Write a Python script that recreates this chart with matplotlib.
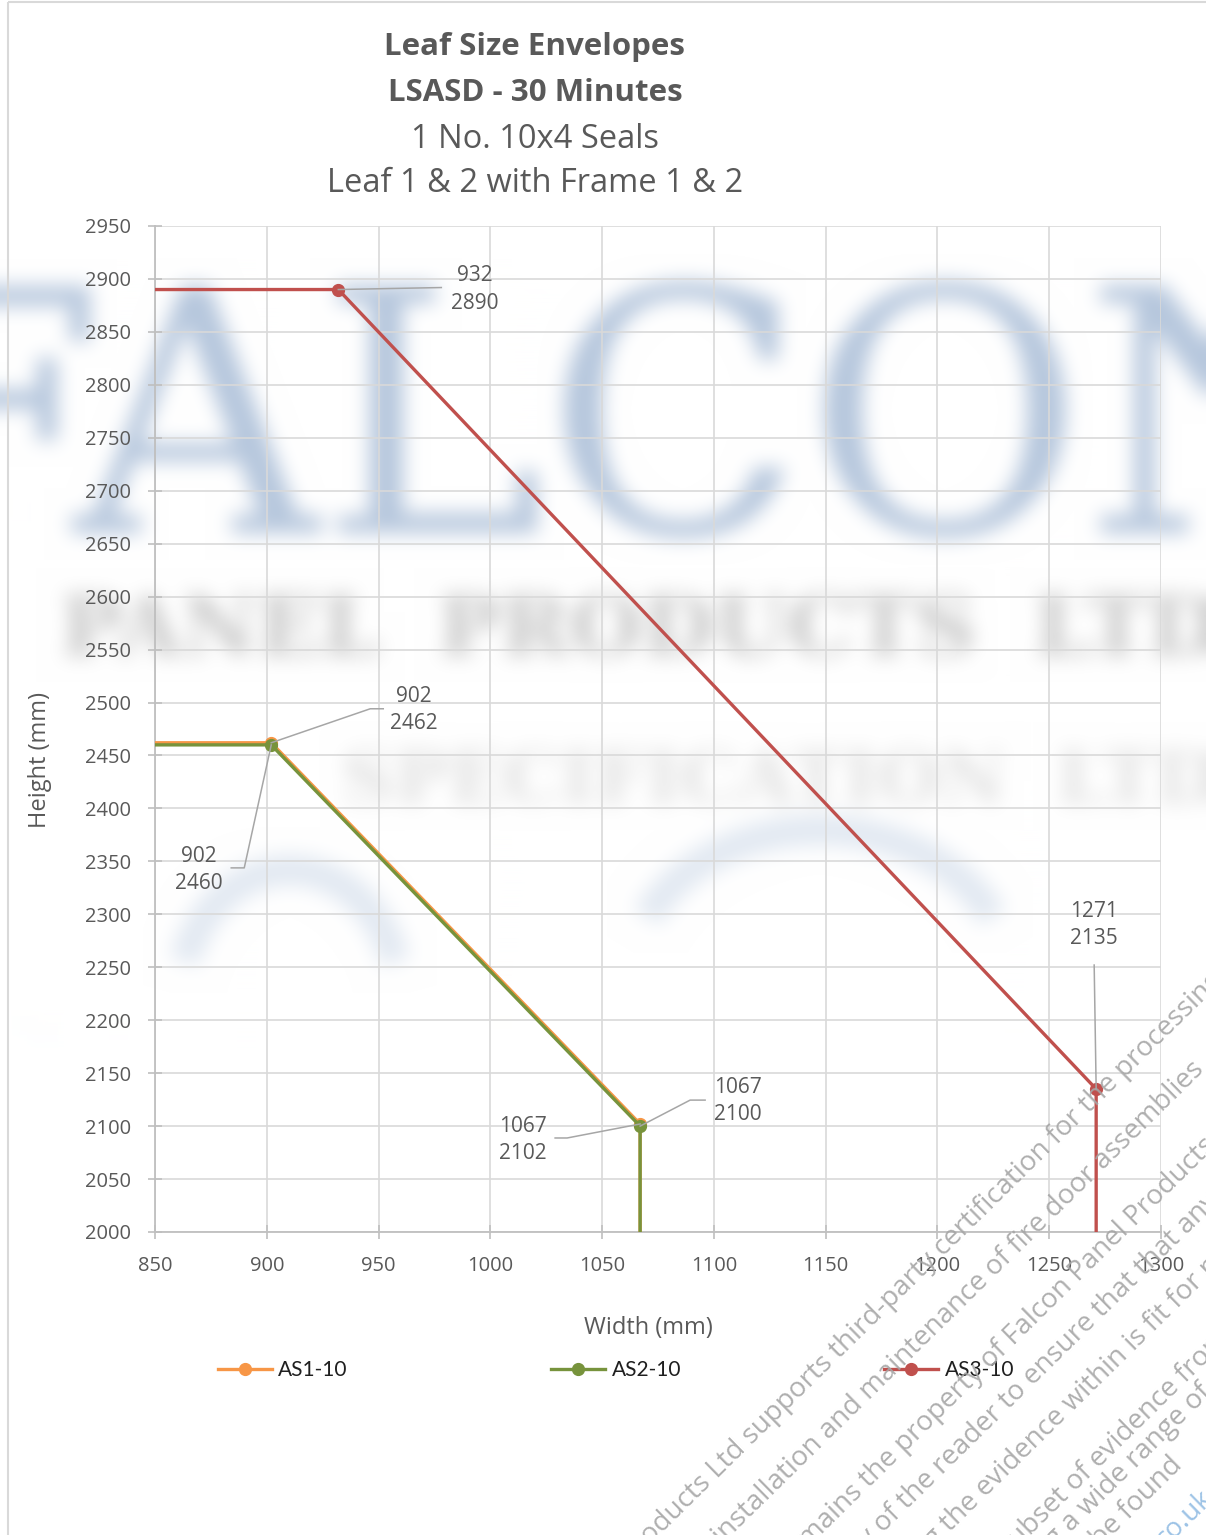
import matplotlib
matplotlib.use("Agg")
import numpy as np
import matplotlib.pyplot as plt
from matplotlib.lines import Line2D
from matplotlib.patches import Rectangle, Arc
from matplotlib.transforms import IdentityTransform
from matplotlib.backends.backend_agg import FigureCanvasAgg

plt.rcParams['font.family'] = ['Open Sans', 'DejaVu Sans']

# data
series_names = ['AS1-10', 'AS2-10', 'AS3-10']
series_colors = ['#F79646', '#77933C', '#C0504D']
as1_w = [850, 902, 1067, 1067]
as1_h = [2462, 2462, 2102, 2000]
as2_w = [850, 902, 1067, 1067]
as2_h = [2460, 2460, 2100, 2000]
as3_w = [850, 932, 1271, 1271]
as3_h = [2890, 2890, 2135, 2000]
title_lines = ['Leaf Size Envelopes', 'LSASD - 30 Minutes',
               '1 No. 10x4 Seals', 'Leaf 1 & 2 with Frame 1 & 2']

W, H = 1206, 1535


def box_blur(img, r):
    # separable box blur, edges padded
    out = img
    for axis in (0, 1):
        pad = [(0, 0)] * 3
        pad[axis] = (r + 1, r)
        p = np.pad(out, pad, mode='edge')
        c = np.cumsum(p, axis=axis)
        n = out.shape[axis]
        hi = np.take(c, np.arange(2 * r + 1, 2 * r + 1 + n), axis=axis)
        lo = np.take(c, np.arange(0, n), axis=axis)
        out = (hi - lo) / (2 * r + 1)
    return out


def watermark_image():
    # render the page watermark off-screen and blur it
    f2 = plt.figure(figsize=(W / 100, H / 100), dpi=100)
    f2.patch.set_facecolor('white')
    a = f2.add_axes([0, 0, 1, 1])
    a.set_axis_off()
    a.set_xlim(0, W)
    a.set_ylim(H, 0)
    a.text(625, 440, 'FALCON', fontsize=245, family='DejaVu Serif',
           color='#b6c7dd', ha='center', va='center')
    a.text(640, 632, 'PANEL  PRODUCTS  LTD', fontsize=60, weight='bold',
           family='DejaVu Serif', color='#c8c8c8', ha='center', va='center')
    a.text(780, 782, 'SPECIFICATION  LTD', fontsize=52, weight='bold',
           family='DejaVu Serif', color='#e2e2e2', ha='center', va='center')
    for (cx, cy, w, h, t1, t2) in [(290, 1000, 220, 260, 200, 340),
                                   (820, 980, 380, 300, 200, 340),
                                   (330, -60, 700, 300, 300, 360)]:
        a.add_patch(Arc((cx, cy), w, h, theta1=t1, theta2=t2,
                        color='#e2e9f2', lw=22))
    cv = FigureCanvasAgg(f2)
    cv.draw()
    img = np.asarray(cv.buffer_rgba())[..., :3].astype(float) / 255.0
    plt.close(f2)
    for _ in range(3):
        img = box_blur(img, 9)
    return np.clip(img, 0, 1)


fig = plt.figure(figsize=(W / 100, H / 100), dpi=100)
fig.figimage(watermark_image(), xo=0, yo=0, origin='upper', zorder=0)

bg = fig.add_axes([0, 0, 1, 1], zorder=1)
bg.set_axis_off()
bg.set_xlim(0, W)
bg.set_ylim(H, 0)
bg.patch.set_alpha(0)
bg.add_patch(Rectangle((8, 2), W, H, fill=False, edgecolor='#d9d9d9', lw=1.5))

# --- chart ---
ax = fig.add_axes([155 / W, 1 - 1232 / H, (1161 - 155) / W, (1232 - 226) / H], zorder=2)
ax.set_facecolor('none')

runs = [(as1_w, as1_h), (as2_w, as2_h), (as3_w, as3_h)]
handles = []
for (w, h), name, col in zip(runs, series_names, series_colors):
    ax.plot(w, h, color=col, lw=2.4, marker='o', markersize=8.5,
            markevery=[1, 2], label=name, zorder=3, solid_joinstyle='round')
    handles.append(Line2D([], [], color=col, lw=2.4, marker='o', markersize=8.5))

ax.set_xlim(850, 1300)
ax.set_ylim(2000, 2950)
ax.set_xticks(range(850, 1301, 50))
ax.set_yticks(range(2000, 2951, 50))
ax.grid(True, color='#d9d9d9', lw=1.2)
ax.set_axisbelow(True)
for s in ['top', 'right']:
    ax.spines[s].set_visible(False)
for s in ['left', 'bottom']:
    ax.spines[s].set_color('#bfbfbf')
    ax.spines[s].set_linewidth(1.3)
ax.tick_params(direction='inout', length=10, color='#bfbfbf', width=1.2,
               labelsize=14.5, labelcolor='#595959')
ax.tick_params(axis='y', pad=12)
ax.tick_params(axis='x', pad=12)
ax.set_xlabel('Width (mm)', fontsize=17, color='#595959')
ax.set_ylabel('Height (mm)', fontsize=17, color='#595959')
ax.xaxis.set_label_coords((648 - 155) / 1006, -(1316 - 1232) / 1006)
ax.yaxis.set_label_coords((52 - 155) / 1006, (1232 - 760) / 1006)

# data labels: (series, point index, text offset px, leader path px)
labels = [
    (2, 1, (136, 0), [(0, 0), (103, 2)]),
    (0, 1, (143, 33), [(0, 0), (99, 34), (112, 34)]),
    (1, 1, (-72, -125), [(0, 0), (-27, -123), (-40, -123)]),
    (0, 2, (-117, -16), [(0, 0), (-73, -14), (-85, -14)]),
    (1, 2, (98, 25), [(0, 0), (50, 26), (65, 26)]),
    (2, 2, (-2, 164), [(0, 0), (-2, 124)]),
]
for si, pi, (dx, dy), path in labels:
    w, h = runs[si]
    x, y = w[pi], h[pi]
    px, py = ax.transData.transform((x, y))
    fig.add_artist(Line2D([px + a for a, b in path], [py + b for a, b in path],
                          transform=IdentityTransform(), color='#a6a6a6', lw=1.1,
                          zorder=4))
    ax.annotate(f'{x}\n{y}', (x, y), xytext=(dx, dy), textcoords='offset pixels',
                ha='center', va='center', fontsize=15, color='#595959',
                linespacing=1.4, zorder=5)

# titles
ty = [47, 93, 139, 184]
for i, (t, yy) in enumerate(zip(title_lines, ty)):
    bold = i < 2
    fig.text(535 / W, 1 - yy / H, t, ha='center', va='center',
             fontsize=22.5 if bold else 23.5, color='#595959',
             weight='bold' if bold else 'normal')

fig.legend(handles, series_names, loc='center', bbox_to_anchor=(616 / W, 1 - 1370 / H),
           ncol=3, frameon=False, handlelength=2.6, handletextpad=0.3,
           columnspacing=9.75, labelcolor='#1f1f1f',
           prop={'family': ['Lato', 'DejaVu Sans'], 'size': 15})

# diagonal disclaimer overlay (runs off the page edge, as in the source)
disclaimer = [
    ((650, 1545), 'oducts Ltd supports third-party certification for the processing'),
    ((722, 1545), 'installation and maintenance of fire door assemblies'),
    ((808, 1548), 'mains the property of Falcon Panel Products'),
    ((868, 1548), 'y of the reader to ensure that that any'),
    ((934, 1548), 'g the evidence within is fit for purpose'),
    ((1018, 1548), 'ubset of evidence from'),
    ((1055, 1548), 'g a wide range of'),
    ((1100, 1548), 'be found'),
]
for (x0, y0), t in disclaimer:
    fig.text(x0 / W, 1 - y0 / H, t, rotation=44.5, rotation_mode='anchor',
             ha='left', va='baseline', fontsize=20, color='#a6a6a6', alpha=0.9,
             zorder=10)
fig.text(1165 / W, 1 - 1548 / H, 'co.uk', rotation=44.5, rotation_mode='anchor',
         ha='left', va='baseline', fontsize=20, color='#9dc3e6', zorder=10)

fig.savefig('out.png', dpi=100)
